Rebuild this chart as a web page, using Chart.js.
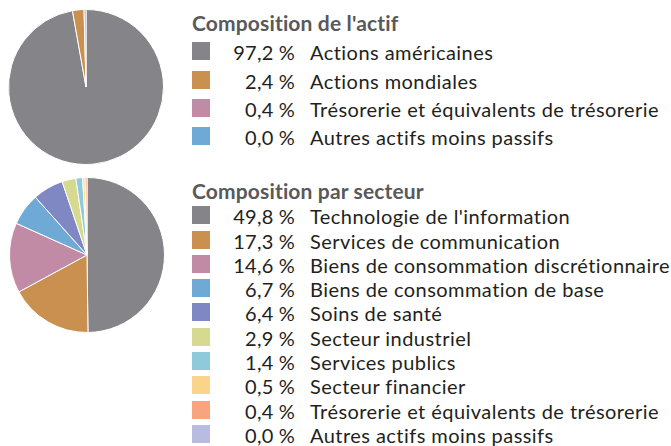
<!DOCTYPE html>
<html>
<head>
<meta charset="utf-8">
<script src="https://cdn.jsdelivr.net/npm/chart.js@4.4.1/dist/chart.umd.min.js"></script>
<style>
  html, body { margin: 0; padding: 0; background: #fff; }
  body { width: 671px; height: 446px; position: relative; overflow: hidden; font-family: Lato, "Open Sans", sans-serif; }
  .pie { position: absolute; width: 156px; height: 156px; }
  .legend { position: absolute; left: 192px; }
  .legend h3 { margin: 0; font-size: 21px; font-weight: 700; color: #58595b; letter-spacing: 0.15px; line-height: 20px; height: 20px; white-space: nowrap; }
  .row { display: flex; align-items: flex-end; white-space: nowrap; color: #231f20; font-size: 20px; letter-spacing: 0.45px; }
  .sw { width: 18px; height: 18px; flex: none; }
  .pct { width: 85px; text-align: right; flex: none; letter-spacing: 0.2px; }
  .lbl { margin-left: 15px; }
  .row span { display: inline-block; height: 18px; line-height: 18px; position: relative; top: 1px; overflow: visible; }
</style>
</head>
<body>
<canvas id="assetPie" class="pie" style="left:8px; top:9px;"></canvas>
<canvas id="sectorPie" class="pie" style="left:9px; top:177px;"></canvas>
<div class="legend" id="assetLegend" style="top:13px;"></div>
<div class="legend" id="sectorLegend" style="top:181px;"></div>
<script>
const assetTitle = "Composition de l'actif";
const assetLabels = ["Actions américaines", "Actions mondiales", "Trésorerie et équivalents de trésorerie", "Autres actifs moins passifs"];
const assetValues = [97.2, 2.4, 0.4, 0.0];
const assetColors = ["#858589", "#c9904f", "#c28ba5", "#6faad6"];

const sectorTitle = "Composition par secteur";
const sectorLabels = [
  "Technologie de l'information", "Services de communication", "Biens de consommation discrétionnaire",
  "Biens de consommation de base", "Soins de santé", "Secteur industriel", "Services publics",
  "Secteur financier", "Trésorerie et équivalents de trésorerie", "Autres actifs moins passifs"
];
const sectorValues = [49.8, 17.3, 14.6, 6.7, 6.4, 2.9, 1.4, 0.5, 0.4, 0.0];
const sectorColors = ["#858589", "#c9904f", "#c28ba5", "#6faad6", "#7f88c3", "#d5da90", "#8ecad9", "#f9d48a", "#f7a47f", "#b8bce0"];

function formatPct(v) {
  return v.toFixed(1).replace('.', ',') + ' %';
}

function buildLegend(id, title, labels, values, colors, rowHeight, titleGap) {
  const box = document.getElementById(id);
  const h = document.createElement('h3');
  h.textContent = title;
  h.style.marginBottom = titleGap + 'px';
  box.appendChild(h);
  labels.forEach((label, i) => {
    const row = document.createElement('div');
    row.className = 'row';
    row.style.height = rowHeight + 'px';
    row.innerHTML = `
      <div class="sw" style="background:${colors[i]};"></div>
      <span class="pct">${formatPct(values[i])}</span>
      <span class="lbl">${label}</span>
    `;
    box.appendChild(row);
  });
}

function drawPie(id, labels, values, colors) {
  const ctx = document.getElementById(id).getContext('2d');
  return new Chart(ctx, {
    type: 'pie',
    data: {
      labels: labels,
      datasets: [{
        data: values,
        backgroundColor: colors,
        borderColor: '#fff',
        borderWidth: 1
      }]
    },
    options: {
      responsive: false,
      animation: false,
      layout: { padding: 0 },
      plugins: {
        legend: { display: false },
        tooltip: { enabled: false }
      }
    }
  });
}

buildLegend('assetLegend', assetTitle, assetLabels, assetValues, assetColors, 28.3, -1);
buildLegend('sectorLegend', sectorTitle, sectorLabels, sectorValues, sectorColors, 24.3, -1);
drawPie('assetPie', assetLabels, assetValues, assetColors);
drawPie('sectorPie', sectorLabels, sectorValues, sectorColors);
</script>
</body>
</html>
